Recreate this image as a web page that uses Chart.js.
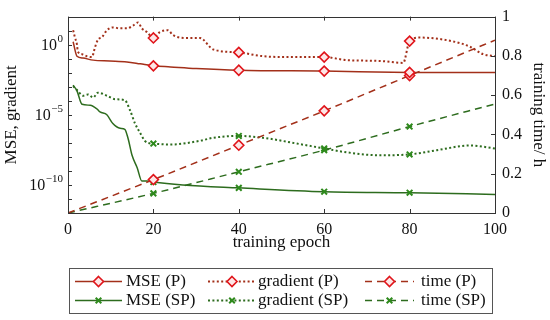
<!DOCTYPE html>
<html>
<head>
<meta charset="utf-8">
<script src="https://cdn.jsdelivr.net/npm/chart.js@4/dist/chart.umd.min.js"></script>
<style>
  html, body { margin: 0; padding: 0; background: #fff; }
  #wrap { width: 550px; height: 320px; position: relative; }
</style>
</head>
<body>
<div id="wrap"><canvas id="c" width="550" height="320"></canvas></div>
<script>
// ---------- data ----------
const epochTicks = [0, 20, 40, 60, 80, 100];
const epochTickLabels = ['0', '20', '40', '60', '80', '100'];
const logDecades = [-12, -11, -10, -9, -8, -7, -6, -5, -4, -3, -2, -1, 0, 1, 2];
const logLabelExps = [0, -5, -10];
const timeTicks = [0, 0.2, 0.4, 0.6, 0.8, 1];
const timeTickLabels = ['0', '0.2', '0.4', '0.6', '0.8', '1'];
const markerEpochs = [20, 40, 60, 80];

const mseP_epoch = [1.2, 2.1, 3.5, 5.9, 9.8, 13.8, 16.9, 20, 24, 30, 40, 60, 80, 100];
const mseP_val   = [1.6, 0.15, 0.11, 0.079, 0.069, 0.059, 0.043, 0.031, 0.026, 0.02, 0.015, 0.013, 0.0105, 0.0102];

const gradP_epoch = [1.2, 1.6, 2.1, 2.3, 3.3, 4.4, 5.6, 6.3, 7.0, 8.0, 9.1, 10.5, 12.2, 13.8, 15.2, 16.4, 17.3, 18.5, 20, 21.5, 23.4, 24.6, 27.9, 30.9, 34, 40, 45.7, 52, 60, 65.3, 73, 78.5, 80, 82.4, 90.2, 94.1, 97.2, 100];
const gradP_val   = [10.7, 3.5, 1.0, 0.33, 0.21, 0.15, 0.13, 0.62, 2.2, 3.5, 10.7, 17, 14.5, 14.5, 23, 38, 14.5, 7.8, 3.0, 7.8, 10.7, 4.8, 3.0, 3.0, 0.46, 0.28, 0.15, 0.13, 0.13, 0.079, 0.069, 0.05, 1.8, 3.2, 1.7, 0.72, 0.21, 0.15];

const timeP_epoch = [0, 20, 40, 60, 80, 100];
const timeP_val   = [0, 0.17, 0.345, 0.52, 0.70, 0.88];

const mseSP_epoch = [1.2, 2.1, 3.3, 5.2, 6.8, 7.5, 9.1, 10.5, 12.2, 13.3, 14.1, 15, 16.2, 17.3, 18.5, 20, 26.9, 40, 60, 80, 100];
const mseSP_val   = [1.3e-3, 5.1e-4, 5.6e-5, 4.8e-5, 2.6e-5, 1.6e-5, 1e-5, 2.4e-6, 1.1e-6, 9.3e-7, 1.9e-7, 1.3e-8, 1.7e-9, 1.9e-10, 1.9e-10, 1.6e-10, 1e-10, 6.2e-11, 3.3e-11, 2.8e-11, 2.1e-11];

const gradSP_epoch = [1.2, 2.3, 3.5, 4.7, 5.9, 7.0, 9.1, 11, 13.3, 14.5, 15.7, 16.9, 18, 18.7, 20, 24, 30.9, 34, 40, 45.7, 53.6, 60, 65.3, 73, 80, 86.4, 94.1, 100];
const gradSP_val   = [1.1e-3, 5.1e-4, 2.3e-4, 2.8e-4, 1.7e-4, 3.8e-4, 2.3e-4, 1.3e-4, 1.1e-4, 2.2e-5, 2.4e-6, 5.0e-7, 1.4e-7, 1.0e-7, 8.9e-8, 7.6e-8, 1.4e-7, 2.3e-7, 3.1e-7, 2.3e-7, 8.9e-8, 4.0e-8, 2.1e-8, 1.3e-8, 1.5e-8, 3.0e-8, 6.5e-8, 4.0e-8];

const timeSP_epoch = [0, 20, 40, 60, 80, 100];
const timeSP_val   = [0, 0.10, 0.21, 0.32, 0.44, 0.555];

// ---------- styles ----------
const FONT = "'Liberation Serif', 'DejaVu Serif', serif";
const TEXT_SIZE = 17;
const TICK_SIZE = 16;
const redLine = '#a3301a';
const redMark = '#e0151b';
const redFill = '#fde6e6';
const greenLine = '#2d6c1e';
const greenMark = '#2e8a1c';
const DOT = [2, 2.4];
const DASH = [7, 5];

function pts(ex, vs) { return ex.map((e, i) => ({ x: e, y: vs[i] })); }
const markerR = r => ctx => (ctx.raw && markerEpochs.includes(ctx.raw.x)) ? r : 0;

function ds(label, data, axis, kind, fam) {
  const isP = fam === 'P';
  return {
    label, data, yAxisID: axis,
    borderColor: isP ? redLine : greenLine,
    borderWidth: kind === 'dot' ? 2 : 1.5,
    borderDash: kind === 'dot' ? DOT : (kind === 'dash' ? DASH : []),
    pointStyle: isP ? 'rectRot' : 'crossRot',
    pointRadius: markerR(isP ? 5 : 4),
    pointHoverRadius: 0,
    pointBorderColor: isP ? redMark : greenMark,
    pointBackgroundColor: isP ? redFill : greenMark,
    pointBorderWidth: isP ? 1.6 : 2,
    cubicInterpolationMode: 'monotone',
    fill: false,
    _kind: kind, _fam: fam
  };
}

const datasets = [
  ds('MSE (P)', pts(mseP_epoch, mseP_val), 'y', 'solid', 'P'),
  ds('gradient (P)', pts(gradP_epoch, gradP_val), 'y', 'dot', 'P'),
  ds('time (P)', pts(timeP_epoch, timeP_val), 'y2', 'dash', 'P'),
  ds('MSE (SP)', pts(mseSP_epoch, mseSP_val), 'y', 'solid', 'SP'),
  ds('gradient (SP)', pts(gradSP_epoch, gradSP_val), 'y', 'dot', 'SP'),
  ds('time (SP)', pts(timeSP_epoch, timeSP_val), 'y2', 'dash', 'SP')
];

// ---------- custom drawing ----------
function drawMarker(ctx, fam, x, y) {
  ctx.save();
  ctx.setLineDash([]);
  if (fam === 'P') {
    const r = 5;
    ctx.beginPath();
    ctx.moveTo(x, y - r); ctx.lineTo(x + r, y); ctx.lineTo(x, y + r); ctx.lineTo(x - r, y); ctx.closePath();
    ctx.fillStyle = redFill; ctx.fill();
    ctx.lineWidth = 1.6; ctx.strokeStyle = redMark; ctx.stroke();
  } else {
    const r = 2.8;
    ctx.beginPath();
    ctx.moveTo(x - r, y - r); ctx.lineTo(x + r, y + r);
    ctx.moveTo(x + r, y - r); ctx.lineTo(x - r, y + r);
    ctx.lineWidth = 2; ctx.strokeStyle = greenMark; ctx.stroke();
  }
  ctx.restore();
}

const framePlugin = {
  id: 'frame',
  afterDraw(chart) {
    const ctx = chart.ctx;
    const a = chart.chartArea;
    const xs = chart.scales.x, ys = chart.scales.y, y2 = chart.scales.y2;
    ctx.save();
    ctx.strokeStyle = '#333';
    ctx.lineWidth = 1;
    ctx.setLineDash([]);
    ctx.strokeRect(Math.round(a.left) + 0.5, Math.round(a.top) + 0.5, Math.round(a.right - a.left), Math.round(a.bottom - a.top));
    const TL = 4;
    ctx.beginPath();
    epochTicks.forEach(v => {
      const px = Math.round(xs.getPixelForValue(v)) + 0.5;
      ctx.moveTo(px, a.bottom); ctx.lineTo(px, a.bottom - TL);
      ctx.moveTo(px, a.top); ctx.lineTo(px, a.top + TL);
    });
    logDecades.forEach(e => {
      const py = Math.round(ys.getPixelForValue(Math.pow(10, e))) + 0.5;
      ctx.moveTo(a.left, py); ctx.lineTo(a.left + TL, py);
    });
    timeTicks.forEach(v => {
      const py = Math.round(y2.getPixelForValue(v)) + 0.5;
      ctx.moveTo(a.right, py); ctx.lineTo(a.right - TL, py);
    });
    ctx.stroke();

    // left log labels with superscripts
    ctx.fillStyle = '#111';
    ctx.textBaseline = 'middle';
    logLabelExps.forEach(e => {
      const py = ys.getPixelForValue(Math.pow(10, e));
      const exp = e < 0 ? '\u2212' + Math.abs(e) : String(e);
      ctx.font = '11px ' + FONT;
      const ew = ctx.measureText(exp).width;
      const xr = a.left - 5;
      ctx.textAlign = 'right';
      ctx.fillText(exp, xr, py - 6);
      ctx.font = TICK_SIZE + 'px ' + FONT;
      ctx.fillText('10', xr - ew - 0.5, py + 1);
    });

    // legend
    const box = { x: 69.5, y: 268.5, w: 423, h: 45 };
    ctx.strokeStyle = '#555';
    ctx.lineWidth = 1;
    ctx.strokeRect(box.x, box.y, box.w, box.h);
    const cols = [{ x0: 75, x1: 122, tx: 126 }, { x0: 208, x1: 256, tx: 258 }, { x0: 365, x1: 414, tx: 421 }];
    const rows = [281, 300];
    chart.data.datasets.forEach((d, i) => {
      const col = cols[i % 3], ry = rows[Math.floor(i / 3)];
      ctx.save();
      ctx.strokeStyle = d.borderColor;
      ctx.lineWidth = d.borderWidth;
      ctx.setLineDash(d.borderDash);
      ctx.beginPath();
      ctx.moveTo(col.x0, ry + 0.5); ctx.lineTo(col.x1, ry + 0.5);
      ctx.stroke();
      ctx.restore();
      drawMarker(ctx, d._fam, (col.x0 + col.x1) / 2, ry + 0.5);
      ctx.font = TEXT_SIZE + 'px ' + FONT;
      ctx.fillStyle = '#111';
      ctx.textAlign = 'left';
      ctx.textBaseline = 'middle';
      ctx.fillText(d.label, col.tx, ry + 1);
    });
    ctx.restore();
  }
};

new Chart(document.getElementById('c'), {
  type: 'line',
  data: { datasets },
  plugins: [framePlugin],
  options: {
    responsive: false,
    animation: false,
    devicePixelRatio: 1,
    layout: { padding: { top: 10, bottom: 62, left: 0, right: 0 } },
    plugins: { legend: { display: false }, tooltip: { enabled: false } },
    scales: {
      x: {
        type: 'linear', position: 'bottom', min: 0, max: 100,
        grid: { display: false, drawTicks: false },
        border: { display: false },
        afterBuildTicks: s => { s.ticks = epochTicks.map(v => ({ value: v })); },
        afterFit: s => { s.height = 45; },
        ticks: {
          padding: 7, color: '#111', font: { family: FONT, size: TICK_SIZE },
          autoSkip: false, maxRotation: 0,
          callback: (v) => epochTickLabels[epochTicks.indexOf(v)]
        },
        title: { display: true, text: 'training epoch', color: '#111', font: { family: FONT, size: TEXT_SIZE }, padding: { top: 0, bottom: 5 } }
      },
      y: {
        type: 'logarithmic', position: 'left', min: 1e-12, max: 1e2,
        grid: { display: false, drawTicks: false },
        border: { display: false },
        afterBuildTicks: s => { s.ticks = logDecades.map(e => ({ value: Math.pow(10, e) })); },
        afterFit: s => { s.width = 68; },
        ticks: { display: false },
        title: { display: true, text: 'MSE, gradient', color: '#111', font: { family: FONT, size: TEXT_SIZE }, padding: { top: 1, bottom: 0 } }
      },
      y2: {
        type: 'linear', position: 'right', min: 0, max: 1,
        grid: { display: false, drawTicks: false },
        border: { display: false },
        afterBuildTicks: s => { s.ticks = timeTicks.map(v => ({ value: v })); },
        afterFit: s => { s.width = 55; },
        ticks: {
          padding: 7, color: '#111', font: { family: FONT, size: TICK_SIZE },
          callback: (v) => timeTickLabels[timeTicks.indexOf(v)]
        },
        title: { display: true, text: 'training time/ h', color: '#111', font: { family: FONT, size: TEXT_SIZE }, padding: { top: 1, bottom: 0 } }
      }
    }
  }
});
</script>
</body>
</html>
